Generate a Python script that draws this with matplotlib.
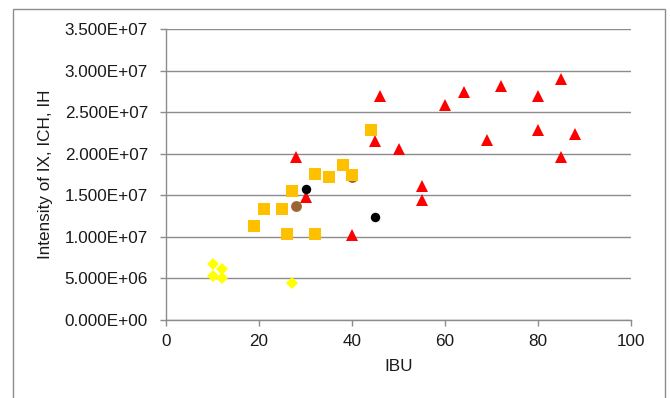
import matplotlib
matplotlib.use("Agg")
import matplotlib.pyplot as plt
from matplotlib.patches import Rectangle
from matplotlib.ticker import FuncFormatter, MultipleLocator

plt.rcParams['font.family'] = ['Liberation Sans', 'DejaVu Sans']

# IX series (red triangles)
ix_ibu = [28, 46, 45, 50, 30, 40, 60, 64, 72, 80, 85, 80, 88, 69, 85, 55, 55]
ix_int = [1.96e7, 2.70e7, 2.15e7, 2.06e7, 1.48e7, 1.02e7, 2.59e7, 2.74e7, 2.82e7,
          2.70e7, 2.90e7, 2.28e7, 2.24e7, 2.16e7, 1.96e7, 1.61e7, 1.44e7]

# IH series (yellow diamonds)
ih_ibu = [10, 12, 10, 12, 27]
ih_int = [6.7e6, 6.1e6, 5.3e6, 5.1e6, 4.5e6]

# black circles
blk_ibu = [30, 45]
blk_int = [1.58e7, 1.24e7]

# brown circles
brn_ibu = [28, 40]
brn_int = [1.37e7, 1.72e7]

# ICH series (orange squares)
ich_ibu = [44, 32, 35, 38, 40, 27, 21, 25, 19, 26, 32]
ich_int = [2.28e7, 1.76e7, 1.72e7, 1.86e7, 1.74e7, 1.55e7, 1.34e7, 1.34e7,
           1.13e7, 1.03e7, 1.04e7]

W, H = 670, 398
fig = plt.figure(figsize=(W / 100, H / 100), dpi=100)
ax = fig.add_axes([166 / W, 1 - 320 / H, (631 - 166) / W, (320 - 29) / H])

ax.plot(ix_ibu, ix_int, linestyle='none', marker='^', markersize=8.5,
        color='#FF0000', markeredgewidth=0, zorder=3)
ax.plot(ih_ibu, ih_int, linestyle='none', marker='D', markersize=6,
        color='#FFFF00', markeredgewidth=0, zorder=3)
ax.plot(blk_ibu, blk_int, linestyle='none', marker='o', markersize=6.8,
        color='#000000', markeredgewidth=0, zorder=4)
ax.plot(brn_ibu, brn_int, linestyle='none', marker='o', markersize=7.8,
        color='#996633', markeredgewidth=0, zorder=4)
ax.plot(ich_ibu, ich_int, linestyle='none', marker='s', markersize=8,
        color='#FFC000', markeredgewidth=0, zorder=5)

ax.set_xlim(0, 100)
ax.set_ylim(0, 3.5e7)
ax.xaxis.set_major_locator(MultipleLocator(20))
ax.yaxis.set_major_locator(MultipleLocator(5e6))
ax.yaxis.set_major_formatter(FuncFormatter(lambda v, p: f"{v:.3E}"))

ax.grid(axis='y', color='#8c8c8c', linewidth=1.0, zorder=1)
ax.set_axisbelow(True)
for side in ('top', 'right'):
    ax.spines[side].set_visible(False)
for side in ('left', 'bottom'):
    ax.spines[side].set_color('#8c8c8c')
    ax.spines[side].set_linewidth(1.0)

ax.tick_params(axis='both', colors='#8c8c8c', length=4, width=1, labelcolor='#1a1a1a',
               labelsize=12.3)
ax.tick_params(axis='y', pad=9)
ax.tick_params(axis='x', pad=6)

ax.set_xlabel('IBU', fontsize=12.3, labelpad=7, color='#1a1a1a')
ax.set_ylabel('Intensity of IX, ICH, IH', fontsize=12.3, labelpad=8, color='#1a1a1a')

# chart area border
fig.patches.append(Rectangle((13 / W, -0.05), (665 - 13) / W, 1.05 - 8.5 / H,
                             transform=fig.transFigure, fill=False,
                             edgecolor='#8c8c8c', linewidth=1.0))

fig.savefig('out.png', dpi=100)
